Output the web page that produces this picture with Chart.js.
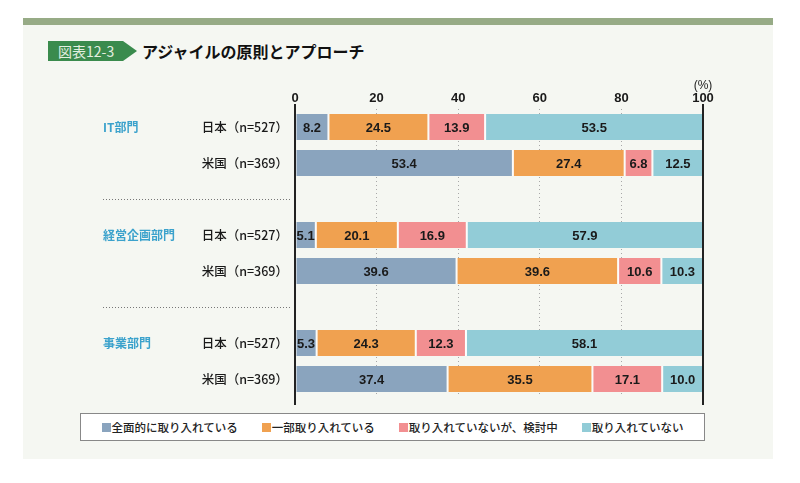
<!DOCTYPE html>
<html lang="ja">
<head>
<meta charset="utf-8">
<script src="https://cdn.jsdelivr.net/npm/chart.js@4.4.1/dist/chart.umd.min.js"></script>
<style>
body{margin:0;background:#fff;width:800px;height:483px;position:relative;overflow:hidden;font-family:"Noto Sans CJK JP",sans-serif;}
#topbar{position:absolute;left:23px;top:18px;width:750px;height:7px;background:#97ab86;}
#panel{position:absolute;left:23px;top:25px;width:750px;height:434px;background:#f5f7f2;}
#badge{position:absolute;left:48px;top:41px;width:75px;height:20px;background:#3a8b4d;color:#e4efe0;font-size:14px;line-height:20px;padding-left:10px;box-sizing:border-box;white-space:nowrap;}
#badge:after{content:"";position:absolute;right:-14px;top:0;border-left:14px solid #3a8b4d;border-top:10px solid transparent;border-bottom:10px solid transparent;}
#title{position:absolute;left:142px;top:39px;font-size:16px;font-weight:bold;color:#111;line-height:24px;}
#legend{position:absolute;left:80px;top:413px;width:625px;height:28px;background:#fff;border:1px solid #888;box-sizing:border-box;display:flex;align-items:center;justify-content:center;font-size:11.5px;font-weight:500;color:#222;white-space:nowrap;}
#legend span.item{display:flex;align-items:center;margin:0 12px;flex-shrink:0;}
#legend span.sw{width:9px;height:9px;margin-right:1px;display:inline-block;}
canvas{position:absolute;left:0;top:0;}
</style>
</head>
<body>
<div id="topbar"></div>
<div id="panel"></div>
<div id="badge">図表12-3</div>
<div id="title">アジャイルの原則とアプローチ</div>
<canvas id="chart" width="800" height="483"></canvas>
<div id="legend"></div>
<script>
const rowLabels = ['日本（n=527）', '米国（n=369）', '', '日本（n=527）', '米国（n=369）', '', '日本（n=527）', '米国（n=369）'];
const deptLabels = ['IT部門', '', '', '経営企画部門', '', '', '事業部門', ''];
const seriesNames = ['全面的に取り入れている', '一部取り入れている', '取り入れていないが、検討中', '取り入れていない'];
const seriesColors = ['#8aa4be', '#f0a150', '#f28f91', '#92ccd7'];
const fullAdopt = [8.2, 53.4, null, 5.1, 39.6, null, 5.3, 37.4];
const partAdopt = [24.5, 27.4, null, 20.1, 39.6, null, 24.3, 35.5];
const considering = [13.9, 6.8, null, 16.9, 10.6, null, 12.3, 17.1];
const notAdopt = [53.5, 12.5, null, 57.9, 10.3, null, 58.1, 10.0];
const xTicks = [0, 20, 40, 60, 80, 100];

const numFont = '"Liberation Sans Narrow", "Liberation Sans", sans-serif';

// 凡例
const legend = document.getElementById('legend');
seriesNames.forEach((name, i) => {
    const item = document.createElement('span');
    item.className = 'item';
    item.innerHTML = '<span class="sw" style="background:' + seriesColors[i] + '"></span>' + name;
    legend.appendChild(item);
});

// 値ラベル・部門ラベル・区切り線
const extras = {
    id: 'extras',
    afterDatasetsDraw(chart) {
        const ctx = chart.ctx;
        const x = chart.scales.x;
        const y = chart.scales.y;
        ctx.save();
        ctx.font = 'bold 13px ' + numFont;
        ctx.fillStyle = '#1a1a1a';
        ctx.textAlign = 'center';
        ctx.textBaseline = 'middle';
        chart.data.datasets.forEach((ds, i) => {
            chart.getDatasetMeta(i).data.forEach((bar, j) => {
                const v = ds.data[j];
                if (v == null) return;
                const p = bar.getCenterPoint();
                ctx.fillText(v.toFixed(1), p.x, p.y + 1);
            });
        });

        // 0 と 100 の縦線
        ctx.strokeStyle = '#222';
        ctx.lineWidth = 2;
        [0, 100].forEach(v => {
            const px = Math.round(x.getPixelForValue(v));
            ctx.beginPath();
            ctx.moveTo(px, 104);
            ctx.lineTo(px, 405);
            ctx.stroke();
        });

        // 部門ラベル
        ctx.font = 'bold 12px "Noto Sans CJK JP", sans-serif';
        ctx.fillStyle = '#3ba2cc';
        ctx.textAlign = 'left';
        deptLabels.forEach((d, j) => {
            if (!d) return;
            ctx.fillText(d, 103, y.getPixelForValue(j));
        });

        // 区切り点線
        ctx.strokeStyle = '#777';
        ctx.lineWidth = 1;
        ctx.setLineDash([1, 2]);
        rowLabels.forEach((r, j) => {
            if (r) return;
            const py = Math.round(y.getPixelForValue(j)) + 0.5;
            ctx.beginPath();
            ctx.moveTo(103, py);
            ctx.lineTo(292, py);
            ctx.stroke();
        });

        // (%)
        ctx.setLineDash([]);
        ctx.font = '12px ' + numFont;
        ctx.fillStyle = '#222';
        ctx.textAlign = 'center';
        ctx.fillText('(%)', x.getPixelForValue(100), 86);
        ctx.restore();
    }
};

const seriesData = [fullAdopt, partAdopt, considering, notAdopt];

new Chart(document.getElementById('chart'), {
    type: 'bar',
    data: {
        labels: rowLabels,
        datasets: seriesData.map((d, i) => ({
            label: seriesNames[i],
            data: d,
            backgroundColor: seriesColors[i],
            borderColor: '#ffffff',
            borderWidth: { top: 0, bottom: 0, left: 1, right: 1 },
            borderSkipped: false,
            barPercentage: 0.72,
            categoryPercentage: 1
        }))
    },
    options: {
        indexAxis: 'y',
        responsive: false,
        animation: false,
        layout: { padding: { left: 0, right: 97, top: 0, bottom: 86 } },
        plugins: {
            legend: { display: false },
            tooltip: { enabled: false }
        },
        scales: {
            x: {
                position: 'top',
                stacked: true,
                min: 0,
                max: 100,
                afterBuildTicks: s => { s.ticks = xTicks.map(v => ({ value: v })); },
                afterFit: s => { s.height = 109; },
                ticks: {
                    padding: 3,
                    color: '#1a1a1a',
                    font: { family: numFont, size: 13, weight: 'bold' }
                },
                grid: {
                    drawTicks: false,
                    color: ctx => (ctx.tick && (ctx.tick.value === 0 || ctx.tick.value === 100)) ? 'rgba(0,0,0,0)' : '#a8a8a8',
                    lineWidth: 1
                },
                border: { display: false, dash: [1, 3] }
            },
            y: {
                stacked: true,
                afterFit: s => { s.width = 295; },
                ticks: {
                    padding: 7,
                    color: '#1a1a1a',
                    font: { family: '"Noto Sans CJK JP", sans-serif', size: 12.5, weight: '500' }
                },
                grid: { display: false, drawTicks: false },
                border: { display: false }
            }
        }
    },
    plugins: [extras]
});
</script>
</body>
</html>
